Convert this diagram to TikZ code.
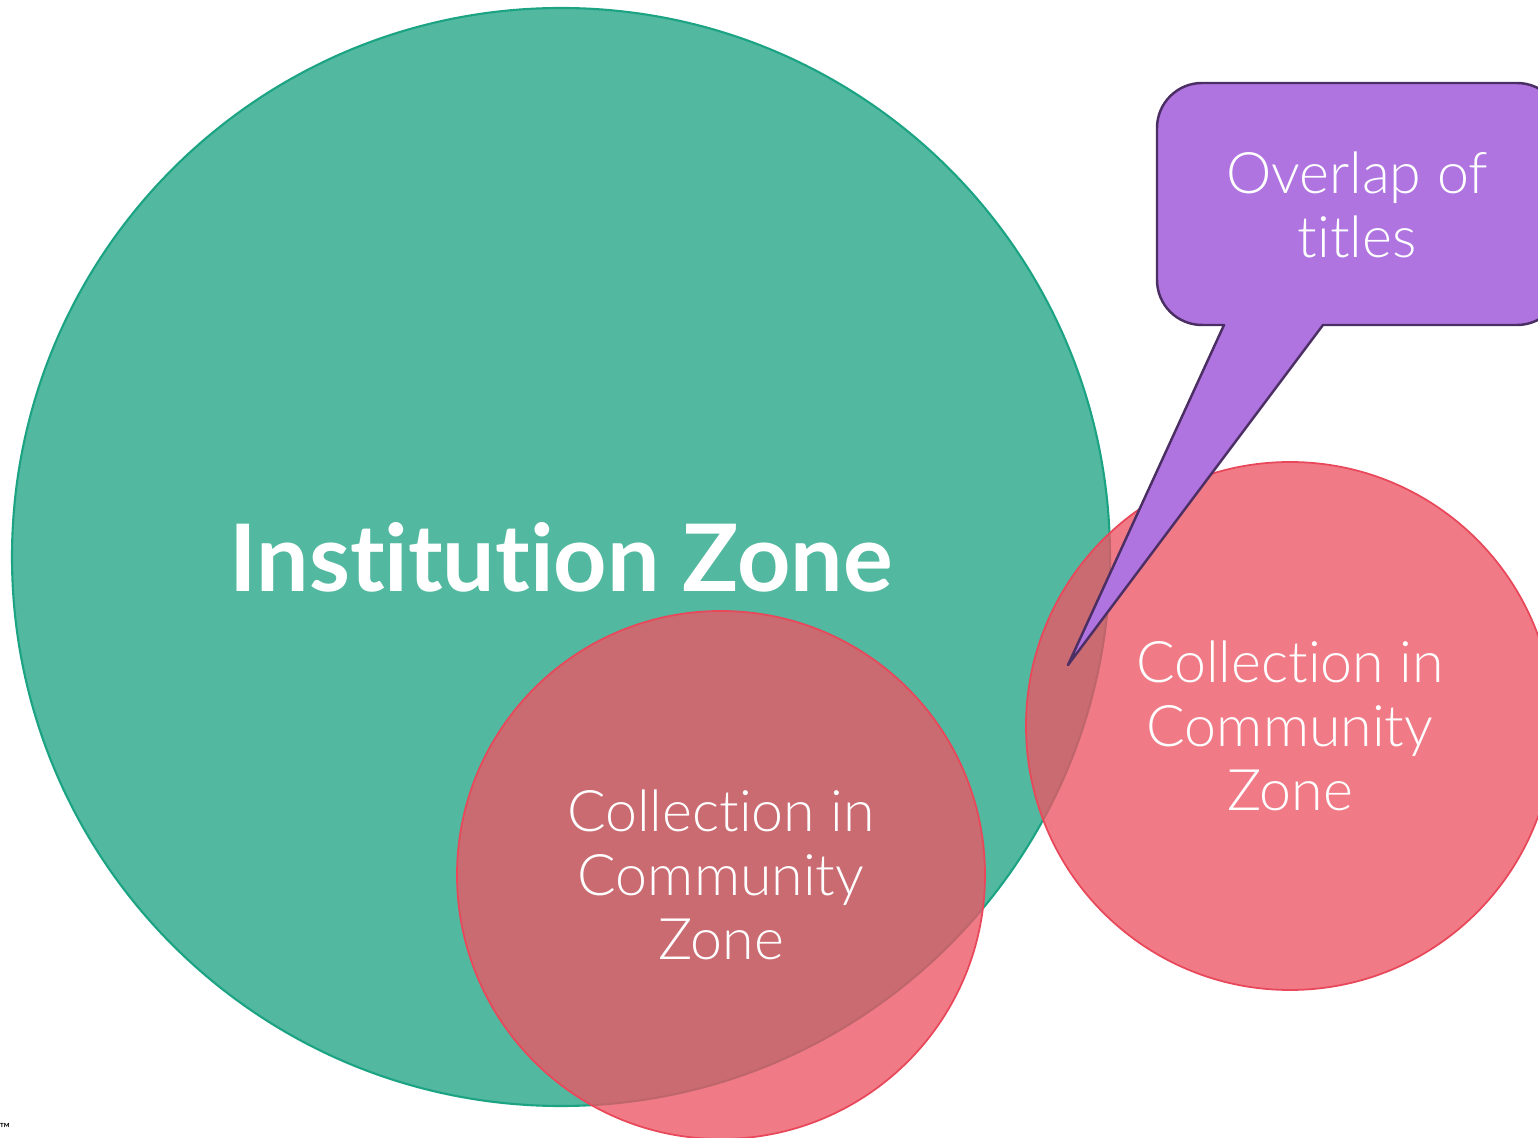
\documentclass[tikz,border=0pt]{standalone}
\usepackage{fontspec}
\setmainfont{Lato}[Ligatures=NoCommon]
\newfontfamily\thinfont{Lato Light}[Ligatures=NoCommon]
\definecolor{instgreen}{HTML}{52B8A0}
\definecolor{instedge}{HTML}{1BA383}
\definecolor{commred}{HTML}{EC5665}
\definecolor{commedge}{HTML}{E8485A}
\definecolor{notepurple}{HTML}{AF74E0}
\definecolor{noteedge}{HTML}{4B2E63}
\begin{document}
\begin{tikzpicture}[
    zone/.style={circle, inner sep=0pt, text=white, align=center},
    commzone/.style={zone, fill=commred, fill opacity=0.78, text opacity=1,
      draw=commedge, line width=0.5pt, minimum size=5.28cm,
      font=\thinfont\fontsize{16.3}{18.2}\selectfont},
    callout/.style={fill=notepurple, draw=noteedge, line width=0.7pt, line join=round}
  ]
  \useasboundingbox (0,0) rectangle (15.38,-11.38);
  \clip (0,0) rectangle (15.38,-11.38);
  % big circle
  \node[zone, fill=instgreen, draw=instedge, line width=0.6pt, minimum size=10.98cm,
    font=\bfseries\fontsize{26.5}{30}\selectfont] (inst) at (5.61,-5.57) {Institution Zone};
  % community circles
  \node[commzone] (commin) at (7.21,-8.75) {Collection in\\Community\\Zone};
  \node[commzone] (commout) at (12.90,-7.26) {Collection in\\Community\\Zone};
  % speech bubble
  \coordinate (tip) at (10.68,-6.65);
  \draw[callout] (tip) -- (13.23,-3.25) [rounded corners=0.45cm] -- (15.62,-3.25)
    -- (15.62,-0.83) -- (11.57,-0.83) -- (11.57,-3.25) [sharp corners] -- (12.24,-3.25) -- cycle;
  \node[text=white, align=center, font=\thinfont\fontsize{16.3}{18.2}\selectfont]
    (overlap) at (13.57,-2.05) {Overlap of\\titles};
  \node[font=\fontsize{4}{4}\selectfont, inner sep=0pt] (tm) at (0.05,-11.28) {\texttrademark};
\end{tikzpicture}
\end{document}
